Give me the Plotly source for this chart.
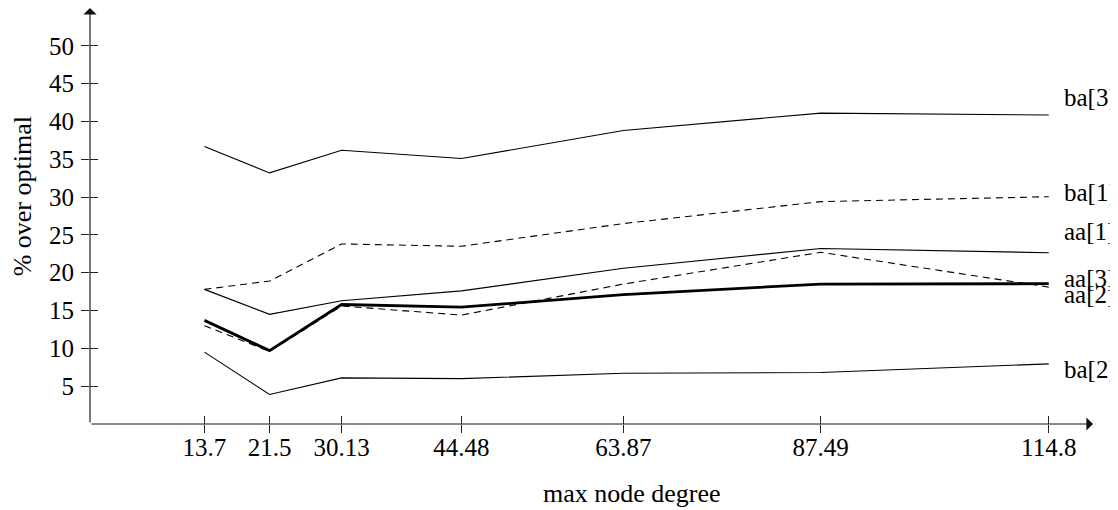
import plotly.graph_objects as go

degrees = [13.7, 21.5, 30.13, 44.48, 63.87, 87.49, 114.8]
tick_labels = ["13.7", "21.5", "30.13", "44.48", "63.87", "87.49", "114.8"]

ba3 = [36.7, 33.2, 36.2, 35.1, 38.8, 41.1, 40.85]
ba1 = [17.8, 18.9, 23.8, 23.5, 26.5, 29.4, 30.05]
aa1 = [17.8, 14.5, 16.3, 17.6, 20.6, 23.2, 22.65]
aa3 = [13.7, 9.7, 15.8, 15.45, 17.1, 18.5, 18.55]
aa2 = [13.0, 9.6, 15.6, 14.4, 18.5, 22.7, 18.1]
ba2 = [9.5, 3.9, 6.1, 6.0, 6.7, 6.8, 7.95]

y_ticks = [5, 10, 15, 20, 25, 30, 35, 40, 45, 50]

FONT = "Liberation Serif"
FS = 25

series = [
    ("ba[3]", ba3, 1.1, "solid", 18),
    ("ba[1]", ba1, 1.1, "7px,5px", 4),
    ("aa[1]", aa1, 1.1, "solid", 21),
    ("aa[3]", aa3, 2.8, "solid", 5),
    ("aa[2]", aa2, 1.1, "7px,5px", -7),
    ("ba[2]", ba2, 1.1, "solid", -6),
]

fig = go.Figure()
for name, vals, w, dash, _ in series:
    fig.add_trace(go.Scatter(x=degrees, y=vals, mode="lines", name=name,
                             line=dict(color="black", width=w, dash=dash),
                             showlegend=False, hoverinfo="skip"))

# invisible trace for the overlay axes (inside half of crossing ticks)
fig.add_trace(go.Scatter(x=[degrees[0]], y=[y_ticks[0]], xaxis="x2", yaxis="y2",
                         mode="markers", marker=dict(opacity=0), showlegend=False,
                         hoverinfo="skip"))

XR = [0, 120.1]
YR = [0, 55]

fig.update_layout(
    width=1110, height=502,
    margin=dict(l=82, r=25, t=0, b=86),
    plot_bgcolor="white", paper_bgcolor="white",
    font=dict(family=FONT, size=FS, color="black"),
    xaxis=dict(range=XR, showgrid=False, zeroline=False, showline=False,
               tickmode="array", tickvals=degrees, ticktext=tick_labels,
               ticks="outside", ticklen=8, tickcolor="#222", tickwidth=1,
               tickfont=dict(family=FONT, size=FS), ticklabelstandoff=-7),
    yaxis=dict(range=YR, showgrid=False, zeroline=False, showline=False,
               tickmode="array", tickvals=y_ticks,
               ticks="outside", ticklen=8, tickcolor="#222", tickwidth=1,
               tickfont=dict(family=FONT, size=FS), ticklabelstandoff=2),
    xaxis2=dict(range=XR, overlaying="x", anchor="y", showgrid=False, zeroline=False,
                tickmode="array", tickvals=degrees, ticks="inside", ticklen=8,
                tickcolor="#222", tickwidth=1, showticklabels=False, side="bottom"),
    yaxis2=dict(range=YR, overlaying="y", anchor="x", showgrid=False, zeroline=False,
                tickmode="array", tickvals=y_ticks, ticks="inside", ticklen=8,
                tickcolor="#222", tickwidth=1, showticklabels=False, side="left"),
)

# axes with arrowheads
fig.add_annotation(x=XR[1], y=0, ax=0, ay=0, xref="x", yref="y", axref="x", ayref="y",
                   showarrow=True, arrowhead=1, arrowsize=2.0, arrowwidth=1.1,
                   arrowcolor="#111", text="")
fig.add_annotation(x=0, y=YR[1], ax=0, ay=0, xref="x", yref="y", axref="x", ayref="y",
                   showarrow=True, arrowhead=1, arrowsize=2.0, arrowwidth=1.1,
                   arrowcolor="#111", text="")

# series labels at line ends
for name, vals, _, _, ys in series:
    fig.add_annotation(x=degrees[-1], y=vals[-1], xref="x", yref="y", text=name,
                       showarrow=False, xanchor="left", yanchor="middle",
                       xshift=13, yshift=ys, font=dict(family=FONT, size=FS))

# axis titles
fig.add_annotation(x=64.9, y=0, xref="x", yref="paper", text="max node degree",
                   showarrow=False, xanchor="center", yanchor="middle", yshift=-69,
                   font=dict(family=FONT, size=26))
fig.add_annotation(x=0, y=30.1, xref="paper", yref="y", text="% over optimal",
                   showarrow=False, textangle=-90, xanchor="center", yanchor="middle",
                   xshift=-68, font=dict(family=FONT, size=26))

fig.write_html("out.html")
